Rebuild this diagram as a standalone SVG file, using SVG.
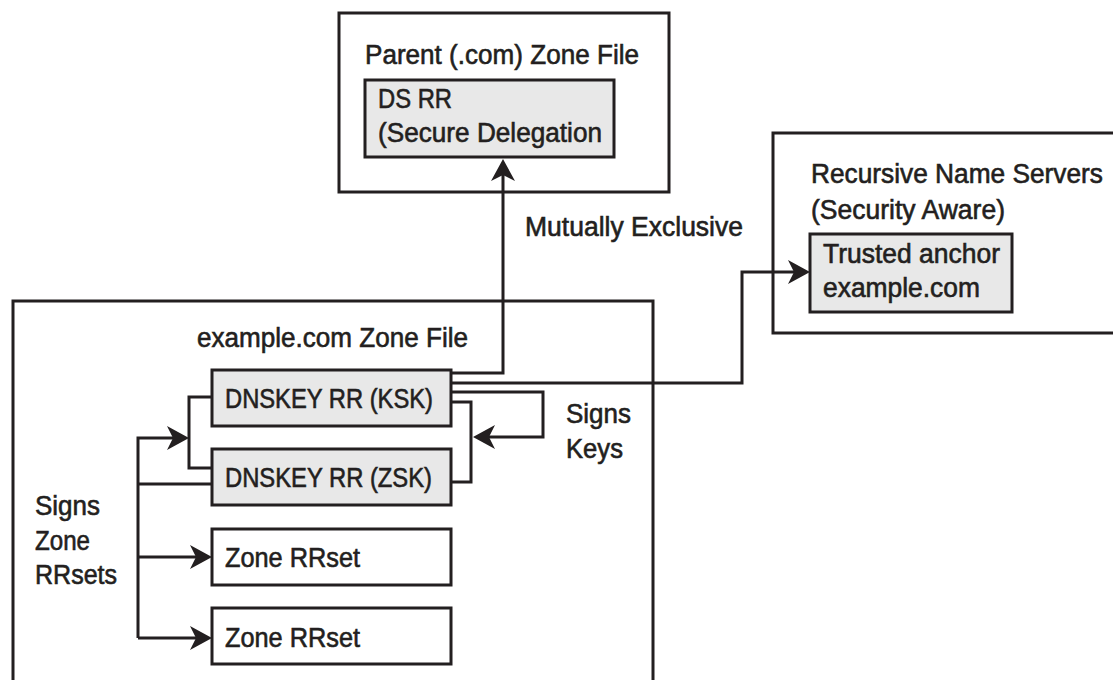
<svg xmlns="http://www.w3.org/2000/svg" width="1113" height="680" viewBox="0 0 1113 680">
<style>
.box{fill:#ffffff;stroke:#231f20;stroke-width:3}
.rr{fill:#e8e8e8;stroke:#231f20;stroke-width:3}
.t{font-family:"Liberation Sans Narrow","Liberation Sans",Arial,sans-serif;font-size:27px;fill:#231f20;stroke:#231f20;stroke-width:0.6}
.c{fill:none;stroke:#231f20;stroke-width:3;stroke-linejoin:miter}
</style>
<defs>
<marker id="ah" markerUnits="userSpaceOnUse" markerWidth="30" markerHeight="30" refX="17" refY="12" orient="auto">
<path d="M0,0 L22,12 L0,24 L6,12 Z" fill="#231f20"/>
</marker>
</defs>
<rect width="1113" height="680" fill="#ffffff"/>

<g id="parent-zone">
<rect class="box" x="339" y="13" width="330" height="179"/>
<text class="t" x="365" y="64" textLength="274" lengthAdjust="spacingAndGlyphs">Parent (.com) Zone File</text>
</g>
<g id="ds-rr">
<rect class="rr" x="365" y="80" width="249" height="77"/>
<text class="t" x="378" y="108" textLength="74" lengthAdjust="spacingAndGlyphs">DS RR</text>
<text class="t" x="378" y="142" textLength="224" lengthAdjust="spacingAndGlyphs">(Secure Delegation</text>
</g>

<g id="recursive">
<rect class="box" x="773" y="133" width="360" height="200"/>
<text class="t" x="811" y="183" textLength="292" lengthAdjust="spacingAndGlyphs">Recursive Name Servers</text>
<text class="t" x="811" y="219" textLength="194" lengthAdjust="spacingAndGlyphs">(Security Aware)</text>
</g>
<g id="trusted-anchor">
<rect class="rr" x="810" y="234" width="202" height="78"/>
<text class="t" x="823" y="263" textLength="177" lengthAdjust="spacingAndGlyphs">Trusted anchor</text>
<text class="t" x="823" y="297" textLength="157" lengthAdjust="spacingAndGlyphs">example.com</text>
</g>

<g id="example-zone">
<rect class="box" x="13" y="301" width="640" height="400"/>
<text class="t" x="197" y="347" textLength="271" lengthAdjust="spacingAndGlyphs">example.com Zone File</text>
</g>
<g id="ksk">
<rect class="rr" x="212" y="370" width="239" height="56"/>
<text class="t" x="225" y="408" textLength="208" lengthAdjust="spacingAndGlyphs">DNSKEY RR (KSK)</text>
</g>
<g id="zsk">
<rect class="rr" x="212" y="449" width="239" height="56"/>
<text class="t" x="225" y="487" textLength="207" lengthAdjust="spacingAndGlyphs">DNSKEY RR (ZSK)</text>
</g>
<g id="zone-rrset-1">
<rect class="box" x="212" y="529" width="239" height="56"/>
<text class="t" x="225" y="567" textLength="135" lengthAdjust="spacingAndGlyphs">Zone RRset</text>
</g>
<g id="zone-rrset-2">
<rect class="box" x="212" y="608" width="239" height="56"/>
<text class="t" x="225" y="647" textLength="135" lengthAdjust="spacingAndGlyphs">Zone RRset</text>
</g>

<g id="connectors">
<path class="c" d="M451,373 H503 V164" marker-end="url(#ah)"/>
<path class="c" d="M451,383 H742 V272 H805" marker-end="url(#ah)"/>
<path class="c" d="M451,392 H543 V437 H478" marker-end="url(#ah)"/>
<path class="c" d="M451,402 H471 V482 H451"/>
<path class="c" d="M212,397 H189 V468 H212"/>
<path class="c" d="M138,638 V438 H184" marker-end="url(#ah)"/>
<path class="c" d="M138,484 H212"/>
<path class="c" d="M138,557 H207" marker-end="url(#ah)"/>
<path class="c" d="M138,638 H207" marker-end="url(#ah)"/>
</g>

<g id="labels">
<text class="t" x="525" y="236" textLength="218" lengthAdjust="spacingAndGlyphs">Mutually Exclusive</text>
<text class="t" x="566" y="423" textLength="65" lengthAdjust="spacingAndGlyphs">Signs</text>
<text class="t" x="566" y="458" textLength="57" lengthAdjust="spacingAndGlyphs">Keys</text>
<text class="t" x="35" y="515" textLength="65" lengthAdjust="spacingAndGlyphs">Signs</text>
<text class="t" x="35" y="550" textLength="55" lengthAdjust="spacingAndGlyphs">Zone</text>
<text class="t" x="35" y="584" textLength="82" lengthAdjust="spacingAndGlyphs">RRsets</text>
</g>
</svg>
